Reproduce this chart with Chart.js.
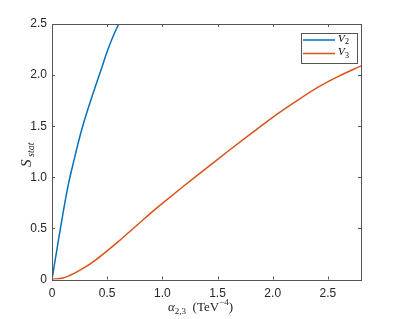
<!DOCTYPE html>
<html>
<head>
<meta charset="utf-8">
<script src="https://cdn.jsdelivr.net/npm/chart.js@4.4.0/dist/chart.umd.min.js"></script>
<style>
  html, body { margin: 0; padding: 0; background: #fff; }
  #wrap { width: 399px; height: 319px; }
</style>
</head>
<body>
<div id="wrap"><canvas id="myChart" width="399" height="319"></canvas></div>
<script>
// values
var v2X = [0, 0.05, 0.1, 0.15, 0.2, 0.25, 0.3, 0.35, 0.4, 0.45, 0.5, 0.55, 0.6, 0.65];
var v2Y = [0, 0.33, 0.65, 0.94, 1.17, 1.39, 1.58, 1.75, 1.91, 2.07, 2.23, 2.37, 2.49, 2.61];

var v3X = [0, 0.1, 0.2, 0.3, 0.4, 0.5, 0.6, 0.7, 0.8, 0.9, 1.0, 1.2, 1.4, 1.6, 1.8, 2.0, 2.2, 2.4, 2.6, 2.8];
var v3Y = [0, 0.015, 0.06, 0.12, 0.195, 0.28, 0.37, 0.465, 0.56, 0.655, 0.745, 0.92, 1.09, 1.26, 1.425, 1.587, 1.735, 1.875, 1.99, 2.09];

var xTicks = [0, 0.5, 1, 1.5, 2, 2.5];
var yTicks = [0, 0.5, 1, 1.5, 2, 2.5];

const ctx = document.getElementById('myChart');

function puntos(xs, ys) {
  let out = [];
  for (let i = 0; i < xs.length; i++) {
    out.push({ x: xs[i], y: ys[i] });
  }
  return out;
}

// draws a run of [text, font, dy] pieces one after the other
function trozos(c, partes, x, y) {
  for (let i = 0; i < partes.length; i++) {
    c.font = partes[i][1];
    c.fillText(partes[i][0], x, y + partes[i][2]);
    x += c.measureText(partes[i][0]).width;
  }
}

const ejes = {
  id: "ejes",
  afterDraw: function (chart) {
    let c = chart.ctx;
    let a = chart.chartArea;
    let sx = chart.scales.x;
    let sy = chart.scales.y;

    c.save();
    c.strokeStyle = "#555";
    c.lineWidth = 1;
    c.strokeRect(Math.round(a.left) + 0.5, Math.round(a.top) + 0.5,
      Math.round(a.right - a.left), Math.round(a.bottom - a.top));

    // inward ticks on all four sides
    c.beginPath();
    for (let i = 0; i < xTicks.length; i++) {
      let px = Math.round(sx.getPixelForValue(xTicks[i])) + 0.5;
      c.moveTo(px, a.bottom); c.lineTo(px, a.bottom - 3);
      c.moveTo(px, a.top); c.lineTo(px, a.top + 3);
    }
    for (let i = 0; i < yTicks.length; i++) {
      let py = Math.round(sy.getPixelForValue(yTicks[i])) + 0.5;
      c.moveTo(a.left, py); c.lineTo(a.left + 3, py);
      c.moveTo(a.right, py); c.lineTo(a.right - 3, py);
    }
    c.stroke();

    // legend
    let lx = 301, ly = 33, lw = 56, lh = 30;
    c.fillStyle = "#fff";
    c.fillRect(lx, ly, lw, lh);
    c.strokeStyle = "#555";
    c.strokeRect(lx + 0.5, ly + 0.5, lw, lh);
    let filas = [["2", 40], ["3", 53.5]];
    for (let i = 0; i < filas.length; i++) {
      let ds = chart.data.datasets[i];
      c.strokeStyle = ds.borderColor;
      c.lineWidth = 1.5;
      c.beginPath();
      c.moveTo(303, filas[i][1]); c.lineTo(335, filas[i][1]);
      c.stroke();
      c.fillStyle = "#000";
      c.font = "italic 11px 'Liberation Serif'";
      c.textBaseline = "middle";
      c.textAlign = "left";
      c.fillText("V", 338, filas[i][1] - 1);
      c.font = "8px 'Liberation Serif'";
      c.fillText(filas[i][0], 345, filas[i][1] + 2);
    }

    // y title
    c.fillStyle = "#262626";
    c.translate(31, 152);
    c.rotate(-Math.PI / 2);
    c.textAlign = "left";
    c.textBaseline = "alphabetic";
    c.font = "italic 15px 'Liberation Serif'";
    c.fillText("S", -15, 0);
    c.font = "italic 10px 'Liberation Serif'";
    c.fillText("stat", -5, 3);
    c.setTransform(1, 0, 0, 1, 0, 0);

    // x title
    c.textBaseline = "alphabetic";
    trozos(c, [
      ["α", "italic 13px 'Liberation Serif'", 0],
      ["2,3", "9px 'Liberation Serif'", 3],
      ["  (TeV", "13px 'Liberation Serif'", 0],
      ["−4", "9px 'Liberation Serif'", -6],
      [")", "13px 'Liberation Serif'", 0]
    ], 168, 311);
    c.restore();
  }
};

new Chart(ctx, {
  type: "line",
  data: {
    datasets: [{
      label: "V2",
      data: puntos(v2X, v2Y),
      borderColor: "#0072BD",
      borderWidth: 1.5,
      pointRadius: 0,
      cubicInterpolationMode: "monotone",
      fill: false
    }, {
      label: "V3",
      data: puntos(v3X, v3Y),
      borderColor: "#D95319",
      borderWidth: 1.5,
      pointRadius: 0,
      cubicInterpolationMode: "monotone",
      fill: false
    }]
  },
  options: {
    responsive: false,
    animation: false,
    layout: { padding: { left: 0, right: 38, top: 24, bottom: 0 } },
    plugins: { legend: { display: false }, tooltip: { enabled: false } },
    scales: {
      x: {
        type: "linear",
        min: 0, max: 2.8,
        afterBuildTicks: function (s) { s.ticks = xTicks.map(function (v) { return { value: v }; }); },
        afterFit: function (s) { s.height = 39.5; },
        grid: { display: false, drawTicks: false },
        border: { display: false },
        ticks: { color: "#262626", padding: 7, font: { family: "'Liberation Sans'", size: 12 }, maxRotation: 0 }
      },
      y: {
        min: 0, max: 2.5,
        afterBuildTicks: function (s) { s.ticks = yTicks.map(function (v) { return { value: v }; }); },
        afterFit: function (s) { s.width = 52; },
        grid: { display: false, drawTicks: false },
        border: { display: false },
        ticks: { color: "#262626", padding: 5, font: { family: "'Liberation Sans'", size: 12 } }
      }
    }
  },
  plugins: [ejes]
});
</script>
</body>
</html>
